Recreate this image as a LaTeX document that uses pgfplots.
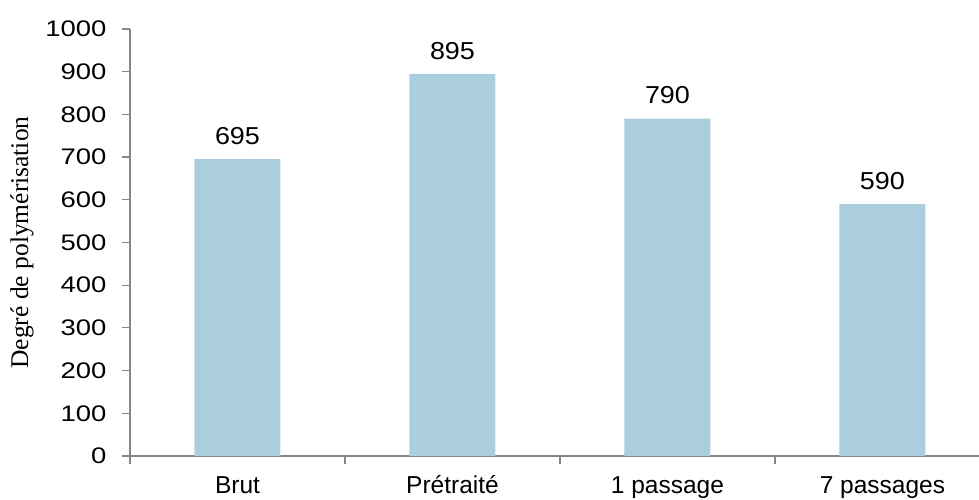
\documentclass[border=0pt]{standalone}
\usepackage{pgfplots}
\pgfplotsset{compat=1.18}
\usepackage{fontspec}
\setmainfont{Liberation Sans}
\newfontfamily\seriffont{Liberation Serif}
\newfontfamily\numfont[FakeStretch=1.22]{Liberation Sans}
\newfontfamily\datafont[FakeStretch=1.1]{Liberation Sans}
\definecolor{barblue}{RGB}{170,206,221}
\definecolor{axisgray}{RGB}{134,134,134}
\begin{document}
\begin{tikzpicture}
\begin{axis}[
  scale only axis,
  width=849pt, height=427pt,
  xmin=-0.5, xmax=3.449, ymin=0, ymax=1000,
  axis x line=bottom, axis y line=left,
  axis line style={axisgray, line width=1.5pt, -},
  tick align=outside,
  major tick length=8pt,
  every tick/.style={axisgray, line width=1.2pt},
  ytick={0,100,...,1000},
  xtick={0,1,2,3},
  xticklabels={Brut,Prétraité,1 passage,7 passages},
  major x tick style={draw=none},
  extra x ticks={-0.5,0.5,1.5,2.5},
  extra x tick labels={},
  extra x tick style={major x tick style={draw=axisgray, line width=1.2pt}},
  /pgf/number format/assume math mode=true,
  /pgf/number format/1000 sep={},
  y tick label style={font=\numfont\fontsize{22.5}{26}\selectfont, xshift=-12pt},
  x tick label style={font=\fontsize{24.5}{28}\selectfont, text height=18pt, text depth=5pt, yshift=-7.5pt},
  every axis y label/.style={at={(axis description cs:-0.1272,0.5)}, rotate=90, anchor=center},
  ylabel={\seriffont\fontsize{25.5}{28}\selectfont Degré de polymérisation},
  clip=false,
]
\addplot[ybar, bar width=0.4, fill=barblue, draw=none,
  nodes near coords,
  every node near coord/.style={font=\datafont\fontsize{24.5}{28}\selectfont, text=black, yshift=11pt},
] coordinates {(0,695) (1,895) (2,790) (3,590)};
\end{axis}
\pgfresetboundingbox
\path ([shift={(-130pt,-44pt)}]current axis.south west) rectangle ([shift={(0pt,29pt)}]current axis.north east);
\end{tikzpicture}
\end{document}
